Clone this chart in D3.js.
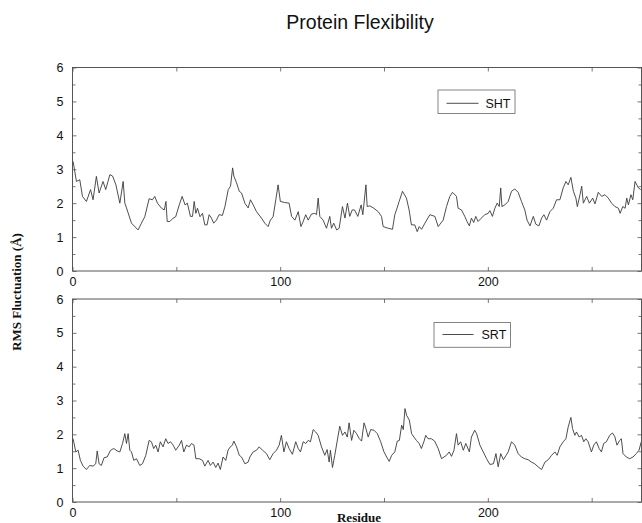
<!DOCTYPE html>
<html>
<head>
<meta charset="utf-8">
<script src="https://cdn.jsdelivr.net/npm/d3@7"></script>
<style>
html,body{margin:0;padding:0;background:#fff;}
svg{display:block;}
</style>
</head>
<body>
<svg id="chart" width="642" height="523"></svg>
<script>
// ---------- DATA ----------
const title = "Protein Flexibility";
const xLabel = "Residue";
const yLabel = "RMS Fluctuation (Å)";
const seriesNames = ["SHT", "SRT"];
const xTickLabels = [0, 100, 200];
const xMinorTicks = [50, 150, 250];
const yTickLabels = [0, 1, 2, 3, 4, 5, 6];
const yMinorTicks = [0.5, 1.5, 2.5, 3.5, 4.5, 5.5];

const shtResidue = [0.3,1.9,3.5,4.8,6.7,8.7,9.9,11.5,12.8,14.7,16,18,19.3,20.9,22.8,24.4,25.2,26,28.4,31.6,33.2,34.8,36.9,38.5,39.6,40.9,42.9,44.2,45,45.6,46.9,48.5,49.7,51.4,52.8,54.2,55.3,56.8,57.8,58.6,59.4,60.2,61.4,62.6,63.7,64.8,65.8,66.9,68,69.3,70.6,72.2,73.4,75,76.1,77.1,77.7,79,80.3,81.4,83,84.6,85.7,87,88.6,91,92.6,94.2,95.3,96.6,97.9,99,100.1,102.2,104.3,105.5,107.1,108.7,110,111.1,112.3,113.5,115.1,116.7,117.5,118.3,119.1,120.7,122.3,123.9,124.7,125.8,127.2,128.4,130,131.2,132.4,133.5,134.7,135.8,137.4,139,139.8,141.3,141.9,143.2,145.1,147.2,148.8,149.6,152,154.1,155.2,156,157.3,158.9,160.8,162.1,163.2,164.8,166,167,168.1,169.7,172.1,174.5,176.1,178.5,180.1,181.7,183,184.9,185.7,187.3,188.9,190,191.1,192.1,193.2,194.2,195.3,196.9,198.5,200.2,201,202.2,203.4,204.5,205.5,206.2,206.8,208.2,209.8,211.4,213,214.6,216.2,217.8,218.9,220.3,221.9,223.1,224.6,225.9,227,228.3,229.9,231.5,233.1,234.7,236.3,237.6,238.7,240,241.2,242.4,243.1,244.4,245.2,246,247.6,248.9,250.5,251.6,253.2,254.8,256.4,258,259.6,261.2,262.9,263.7,265,266.1,266.9,267.7,268.9,269.8,270.9,272.5,273.6];
const shtRms = [3.23,2.64,2.69,2.2,2.05,2.4,2.1,2.79,2.3,2.64,2.4,2.84,2.8,2.54,2.0,2.64,2.0,1.86,1.41,1.21,1.41,1.6,2.13,2.1,2.2,2.0,1.85,1.8,2.05,1.46,1.46,1.56,1.6,1.95,2.2,1.95,2.0,1.61,1.61,2.05,1.7,1.85,1.6,1.7,1.36,1.36,1.66,1.56,1.41,1.5,1.66,1.64,1.9,2.4,2.5,3.04,2.8,2.6,2.35,2.3,2.0,1.86,2.1,1.95,1.75,1.56,1.41,1.31,1.5,1.6,2.1,2.54,2.05,2.02,2.0,1.61,1.5,1.75,1.31,1.46,1.66,1.5,1.68,1.7,1.66,2.15,1.61,1.5,1.26,1.61,1.26,1.41,1.21,1.26,1.9,1.56,2.0,1.61,1.8,1.8,1.61,1.95,1.66,2.54,1.9,1.92,1.85,1.75,1.61,1.31,1.26,1.23,1.66,1.8,2.05,2.35,2.15,1.8,1.36,1.36,1.16,1.31,1.23,1.41,1.66,1.61,1.31,1.5,1.9,2.2,2.32,2.2,1.85,1.8,1.61,1.46,1.33,1.56,1.43,1.61,1.46,1.56,1.66,1.7,1.78,1.61,1.85,2.0,1.9,2.45,1.9,1.95,2.05,2.35,2.42,2.32,2.05,1.8,1.5,1.33,1.61,1.38,1.33,1.56,1.66,1.5,1.75,1.85,2.1,2.1,2.45,2.64,2.54,2.76,2.35,2.15,1.9,2.25,2.5,2.0,2.2,2.0,2.15,1.98,2.32,2.2,2.25,2.15,2.0,1.9,1.85,1.7,1.9,1.85,2.15,1.95,2.25,2.1,2.64,2.45,2.4];

const srtResidue = [0.3,1.6,2.7,3.8,5.1,6.7,8.3,9.9,11.2,11.9,12.8,13.9,15.2,16.7,18.3,19.9,21.5,22.8,24.1,25.2,26,26.8,27.6,28.4,29.5,30.8,32.4,33.7,35.3,36.9,38,39.1,40.1,41.2,42.3,43.6,44.9,46,47.2,48.5,49.7,51.4,52.5,53.6,54.9,56.2,57.3,58.5,59.4,61,62.6,63.7,65.3,66.4,67.7,69,70.1,71.2,72.5,73.8,74.9,76,77,77.7,79,80.3,81.4,83,84.6,85.4,87,88.6,89.9,91.5,93.4,95,96.6,98.2,99.5,100.6,101.8,103,104.3,105.9,107.5,108.7,109.8,111.1,112.3,113.5,114.6,115.9,117.1,118.3,119.9,121.5,122.6,123.6,124.2,125.2,126.3,127.4,128.7,130,131.2,132.3,133.2,134.4,135.5,136.8,138.1,139.2,140.4,141.3,142.4,143.6,145.2,146.8,148.4,150,151.3,152.5,153.7,155.2,156.4,157.4,158.5,159.3,160.1,160.9,162.2,163.3,164.4,165.6,166.9,168,169.2,170.1,171.2,172.8,174.4,176.1,177.7,180.1,181.4,182.5,183.7,184.9,185.7,186.9,188.2,189.4,191.1,192.1,193.7,194.6,196.2,197.8,199.4,201,202.7,203.9,205,206.2,207.5,208.8,209.8,211.4,213,214.6,216.2,217.8,219.4,221,222.6,224.2,225.9,227.5,229.1,230.7,232.3,233.4,234.7,236.3,237.6,238.7,240,240.8,241.9,242.7,244,245.1,246.2,247.2,248.3,249.9,251,252.3,253.6,254.7,255.8,257.1,258.7,260,261.1,262.2,263.5,264.3,265.1,266.7,268.3,269.9,271.5,272.8,273.9];
const srtRms = [1.87,1.48,1.53,1.23,1.06,0.96,1.08,1.06,1.13,1.51,1.13,1.08,1.31,1.33,1.53,1.58,1.51,1.48,1.73,2.02,1.73,2.02,1.53,1.48,1.23,1.28,1.08,1.13,1.38,1.82,1.78,1.58,1.68,1.48,1.78,1.63,1.87,1.73,1.78,1.68,1.53,1.68,1.82,1.48,1.68,1.63,1.73,1.68,1.28,1.28,1.23,1.06,1.23,1.08,1.18,1.02,1.15,0.96,1.33,1.23,1.53,1.63,1.68,1.8,1.63,1.38,1.33,1.13,1.18,1.33,1.48,1.53,1.63,1.53,1.43,1.25,1.43,1.53,1.68,1.97,1.48,1.78,1.58,1.41,1.78,1.58,1.48,1.78,1.73,1.82,1.78,2.14,2.07,1.97,1.63,1.38,1.55,1.18,1.53,1.02,1.38,1.78,2.24,1.97,2.07,1.92,2.34,1.82,2.12,2.02,1.87,1.8,2.34,2.17,1.92,2.14,2.12,2.02,1.78,1.48,1.33,1.2,1.38,1.48,1.8,1.82,2.27,2.14,2.76,2.56,2.42,2.02,1.92,1.82,1.73,1.58,1.78,1.97,1.87,1.87,1.8,1.58,1.28,1.38,1.48,1.35,1.53,2.02,1.68,1.78,1.53,1.73,1.48,1.92,2.12,2.02,1.68,1.48,1.28,1.11,1.13,1.43,1.04,1.43,1.25,1.38,1.48,1.78,1.68,1.43,1.33,1.28,1.25,1.18,1.13,1.04,0.96,1.18,1.25,1.38,1.48,1.38,1.63,1.78,1.87,2.22,2.5,2.17,1.97,2.07,1.92,1.97,1.78,1.87,1.78,1.48,1.68,1.78,1.58,1.48,1.73,1.78,1.97,2.04,1.94,1.68,1.82,1.87,1.43,1.33,1.28,1.33,1.43,1.53,1.78];

// ---------- LAYOUT ----------
const svg = d3.select("#chart");
const left = 72.5, right = 641.5;
const panels = [
  {name: seriesNames[0], res: shtResidue, val: shtRms, top: 67.5, bottom: 271,
   legend: {x0: 438, x1: 515, y0: 90, y1: 113.5, lx0: 446.5, lx1: 478.5, ly: 103.3, tx: 485.5, ty: 107.5}},
  {name: seriesNames[1], res: srtResidue, val: srtRms, top: 299, bottom: 502,
   legend: {x0: 434, x1: 510.5, y0: 322.5, y1: 347.3, lx0: 442.5, lx1: 473.5, ly: 334.5, tx: 481.5, ty: 338.5}}
];
const x = d3.scaleLinear().domain([0, 274]).range([left, right]);
const axisColor = "#555";
const lineColor = "#3a3a3a";
const tickFont = "'Liberation Sans', Arial, sans-serif";
const serif = "'Liberation Serif', 'Times New Roman', serif";

svg.append("text")
  .attr("x", 360).attr("y", 29)
  .attr("text-anchor", "middle")
  .attr("font-family", tickFont)
  .attr("font-size", 19.5)
  .attr("fill", "#111")
  .text(title);

panels.forEach((p, i) => {
  const y = d3.scaleLinear().domain([0, 6]).range([p.bottom, p.top]);
  const g = svg.append("g");
  const clipId = "clip" + i;
  svg.append("clipPath").attr("id", clipId)
    .append("rect").attr("x", left).attr("y", p.top).attr("width", right - left + 2).attr("height", p.bottom - p.top);

  // series line
  const pts = p.res.map((r, k) => [r, p.val[k]]);
  g.append("path")
    .datum(pts)
    .attr("clip-path", `url(#${clipId})`)
    .attr("fill", "none")
    .attr("stroke", lineColor)
    .attr("stroke-width", 0.9)
    .attr("d", d3.line().x(d => x(d[0])).y(d => y(d[1])));

  // left axis with labels
  const la = g.append("g").attr("transform", `translate(${left},0)`)
    .call(d3.axisLeft(y).tickValues(yTickLabels).tickFormat(d3.format("d"))
      .tickSizeInner(-4).tickSizeOuter(0).tickPadding(9));
  la.append("g").call(d3.axisLeft(y).tickValues(yMinorTicks).tickFormat("").tickSizeInner(-3).tickSizeOuter(0));
  // right axis
  const ra = g.append("g").attr("transform", `translate(${right},0)`)
    .call(d3.axisRight(y).tickValues(yTickLabels).tickFormat("").tickSizeInner(-4).tickSizeOuter(0));
  ra.append("g").call(d3.axisRight(y).tickValues(yMinorTicks).tickFormat("").tickSizeInner(-3).tickSizeOuter(0));
  // bottom axis
  const ba = g.append("g").attr("transform", `translate(0,${p.bottom})`)
    .call(d3.axisBottom(x).tickValues(xTickLabels).tickFormat(d3.format("d"))
      .tickSizeInner(-4).tickSizeOuter(0).tickPadding(6));
  ba.append("g").call(d3.axisBottom(x).tickValues(xMinorTicks).tickFormat("").tickSizeInner(-4).tickSizeOuter(0));
  // top axis
  const ta = g.append("g").attr("transform", `translate(0,${p.top})`)
    .call(d3.axisTop(x).tickValues(xTickLabels.concat(xMinorTicks)).tickFormat("").tickSizeInner(-4).tickSizeOuter(0));

  g.selectAll(".domain").remove();
  g.selectAll(".tick line").attr("stroke", axisColor).attr("stroke-width", 0.8);
  g.selectAll(".tick text").attr("font-family", tickFont).attr("font-size", 12.5).attr("fill", "#111");

  // frame
  g.append("rect")
    .attr("x", left).attr("y", p.top)
    .attr("width", right - left).attr("height", p.bottom - p.top)
    .attr("fill", "none").attr("stroke", axisColor).attr("stroke-width", 1);

  // legend
  const L = p.legend;
  const lg = g.append("g");
  lg.append("rect").attr("x", L.x0).attr("y", L.y0).attr("width", L.x1 - L.x0).attr("height", L.y1 - L.y0)
    .attr("fill", "#fff").attr("stroke", "#777").attr("stroke-width", 0.9);
  lg.append("line").attr("x1", L.lx0).attr("x2", L.lx1).attr("y1", L.ly).attr("y2", L.ly)
    .attr("stroke", lineColor).attr("stroke-width", 0.9);
  lg.append("text").attr("x", L.tx).attr("y", L.ty)
    .attr("font-family", tickFont).attr("font-size", 12.5).attr("fill", "#111")
    .text(p.name);
});

svg.append("text")
  .attr("transform", "translate(21,292) rotate(-90)")
  .attr("text-anchor", "middle")
  .attr("font-family", serif)
  .attr("font-weight", "bold")
  .attr("font-size", 13)
  .attr("fill", "#111")
  .text(yLabel);

svg.append("text")
  .attr("x", 359).attr("y", 521.5)
  .attr("text-anchor", "middle")
  .attr("font-family", serif)
  .attr("font-weight", "bold")
  .attr("font-size", 13)
  .attr("fill", "#111")
  .text(xLabel);
</script>
</body>
</html>
